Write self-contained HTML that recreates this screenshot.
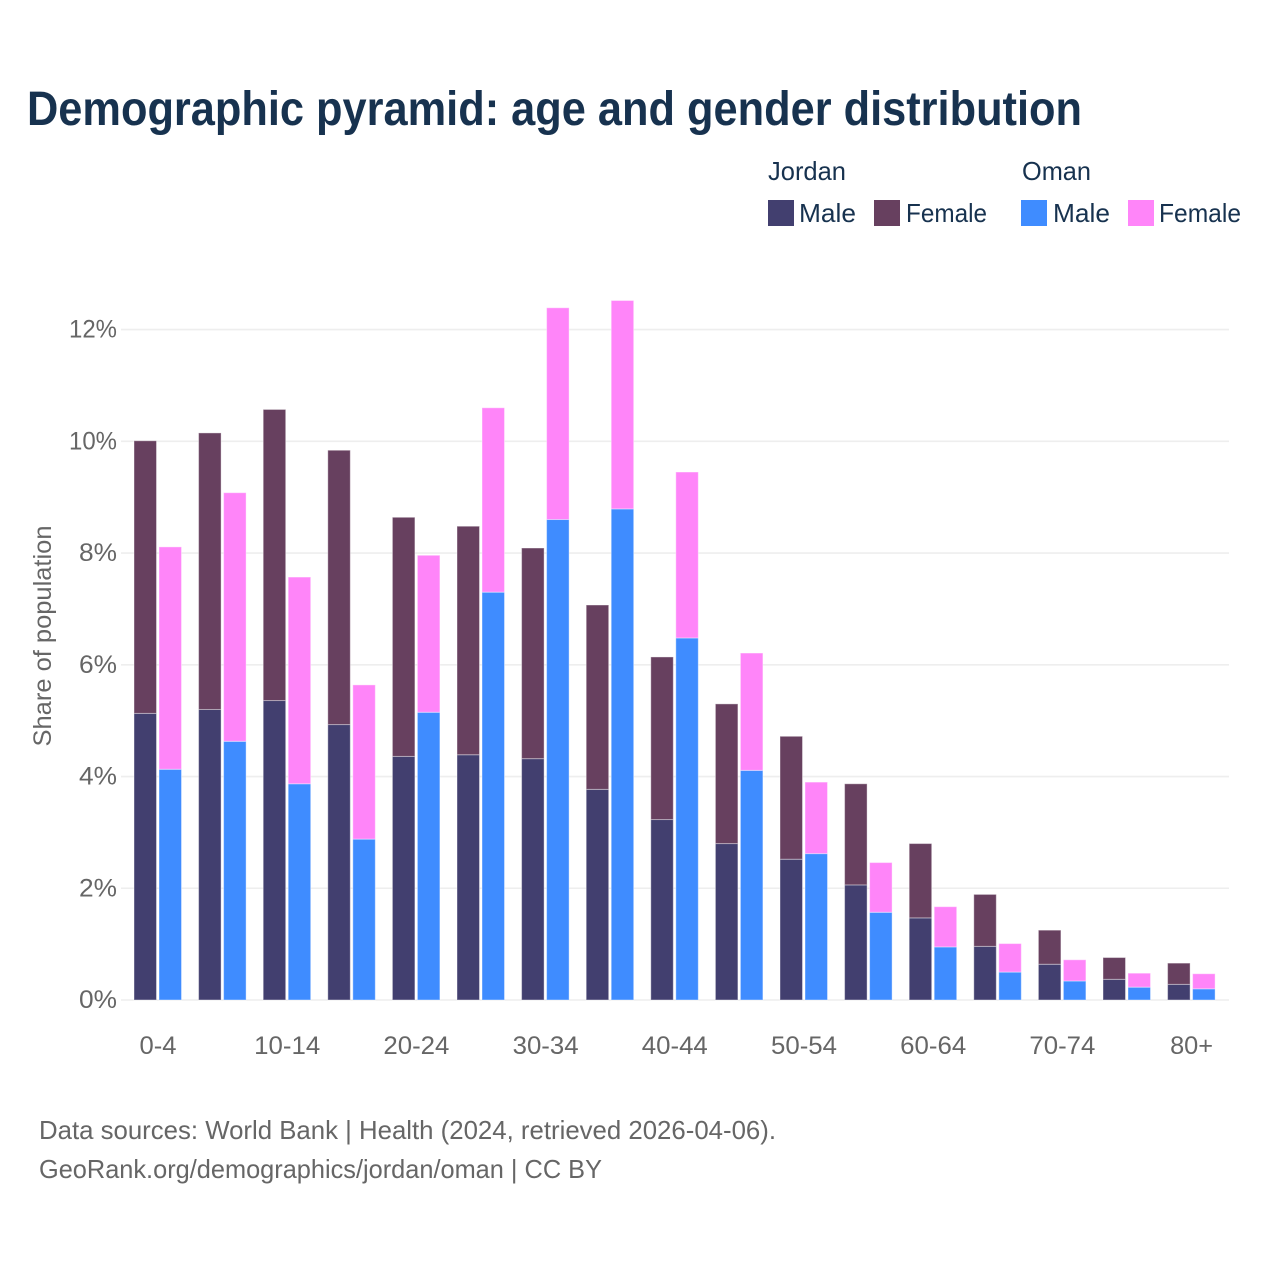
<!DOCTYPE html>
<html lang="en">
<head>
<meta charset="utf-8">
<title>Demographic pyramid: age and gender distribution</title>
<style>
html,body{margin:0;padding:0;background:#fff;}
svg{display:block;font-family:"Liberation Sans",sans-serif;}
</style>
</head>
<body>
<svg id="chart" width="1280" height="1280" viewBox="0 0 1280 1280" xmlns="http://www.w3.org/2000/svg">
  <rect width="1280" height="1280" fill="#ffffff"/>
  <text x="27" y="125" font-size="48" font-weight="700" fill="#17324f" textLength="1055" lengthAdjust="spacingAndGlyphs">Demographic pyramid: age and gender distribution</text>

  <g font-size="26" fill="#17324f">
    <text x="768" y="180" textLength="78" lengthAdjust="spacingAndGlyphs">Jordan</text>
    <text x="1022" y="180" textLength="69" lengthAdjust="spacingAndGlyphs">Oman</text>
    <rect x="768" y="200" width="26" height="26" fill="#423f6f"/>
    <text x="799" y="222" textLength="57" lengthAdjust="spacingAndGlyphs">Male</text>
    <rect x="874" y="200" width="26" height="26" fill="#67405f"/>
    <text x="906" y="222" textLength="81" lengthAdjust="spacingAndGlyphs">Female</text>
    <rect x="1021" y="200" width="26" height="26" fill="#3f8cff"/>
    <text x="1053" y="222" textLength="57" lengthAdjust="spacingAndGlyphs">Male</text>
    <rect x="1128" y="200" width="26" height="26" fill="#ff85f9"/>
    <text x="1159" y="222" textLength="82" lengthAdjust="spacingAndGlyphs">Female</text>
  </g>

  <g id="grid"></g>
  <g id="yticks"></g>
  <g id="bars"></g>
  <g id="xticks"></g>

  <text transform="translate(51,636) rotate(-90)" text-anchor="middle" font-size="25" fill="#666666" textLength="221" lengthAdjust="spacingAndGlyphs">Share of population</text>

  <text x="39" y="1139" font-size="26" fill="#666666" textLength="737" lengthAdjust="spacingAndGlyphs">Data sources: World Bank | Health (2024, retrieved 2026-04-06).</text>
  <text x="39" y="1178" font-size="26" fill="#666666" textLength="563" lengthAdjust="spacingAndGlyphs">GeoRank.org/demographics/jordan/oman | CC BY</text>
</svg>
<script>
const ageGroups = ["0-4","5-9","10-14","15-19","20-24","25-29","30-34","35-39","40-44","45-49","50-54","55-59","60-64","65-69","70-74","75-79","80+"];
const jordanMale = [5.13,5.20,5.36,4.93,4.36,4.39,4.32,3.77,3.23,2.80,2.52,2.06,1.47,0.96,0.64,0.37,0.28];
const jordanFemale = [4.88,4.95,5.21,4.91,4.28,4.09,3.77,3.30,2.91,2.50,2.20,1.81,1.33,0.93,0.61,0.39,0.38];
const omanMale = [4.13,4.63,3.87,2.88,5.15,7.30,8.60,8.79,6.48,4.11,2.62,1.57,0.95,0.50,0.34,0.23,0.20];
const omanFemale = [3.98,4.45,3.70,2.76,2.81,3.30,3.79,3.73,2.97,2.10,1.28,0.89,0.72,0.51,0.38,0.25,0.27];
const yTickValues = [0,2,4,6,8,10,12];
const xTickLabels = ["0-4","","10-14","","20-24","","30-34","","40-44","","50-54","","60-64","","70-74","","80+"];

const NS = "http://www.w3.org/2000/svg";
const plot = {left:121, right:1229, zeroY:1000, pxPerUnit:55.87, firstCenter:158, step:64.6, barWidth:22.5};
function yScale(v){ return plot.zeroY - v * plot.pxPerUnit; }
function xCenter(i){ return plot.firstCenter + i * plot.step; }
function make(tag, attrs, parent, text){
  const el = document.createElementNS(NS, tag);
  for (const k in attrs) el.setAttribute(k, attrs[k]);
  if (text !== undefined) el.textContent = text;
  parent.appendChild(el);
  return el;
}
const grid = document.getElementById('grid');
const yticks = document.getElementById('yticks');
const xticks = document.getElementById('xticks');
const bars = document.getElementById('bars');

yTickValues.forEach(function(v){
  const line = make('line', {x1:plot.left, x2:plot.right, y1:yScale(v), y2:yScale(v), stroke:'#eeeeee', 'stroke-width':1.6}, grid);
  
  
  const label = make('text', {x:117, y:yScale(v)+8, 'text-anchor':'end', 'font-size':25, fill:'#666666', textLength:(v>=10?48:38), lengthAdjust:'spacingAndGlyphs'}, yticks, v + '%');
  
  
});

xTickLabels.forEach(function(t, i){
  if (!t) return;
  const width = t.length === 5 ? 66 : (t === '0-4' ? 37 : 43);
  const label = make('text', {x:xCenter(i), y:1054, 'text-anchor':'middle', 'font-size':25, fill:'#666666', textLength:width, lengthAdjust:'spacingAndGlyphs'}, xticks, t);
  
  
});

function stacked(i, x, male, female, maleColor, femaleColor, prefix){
  const mTop = yScale(male);
  const fTop = yScale(male + female);
  const maleBar = make('rect', {x:x, y:mTop, width:plot.barWidth, height:plot.zeroY - mTop, fill:maleColor, stroke:'#ffffff', 'stroke-opacity':0.4, 'stroke-width':1}, bars);
  
  
  const femaleBar = make('rect', {x:x, y:fTop, width:plot.barWidth, height:mTop - fTop, fill:femaleColor, stroke:'#ffffff', 'stroke-opacity':0.4, 'stroke-width':1}, bars);
  
  
}
ageGroups.forEach(function(g, i){
  const c = xCenter(i);
  stacked(i, c - 24, jordanMale[i], jordanFemale[i], '#423f6f', '#67405f', 'jordan');
  stacked(i, c + 1, omanMale[i], omanFemale[i], '#3f8cff', '#ff85f9', 'oman');
});
</script>
</body>
</html>
